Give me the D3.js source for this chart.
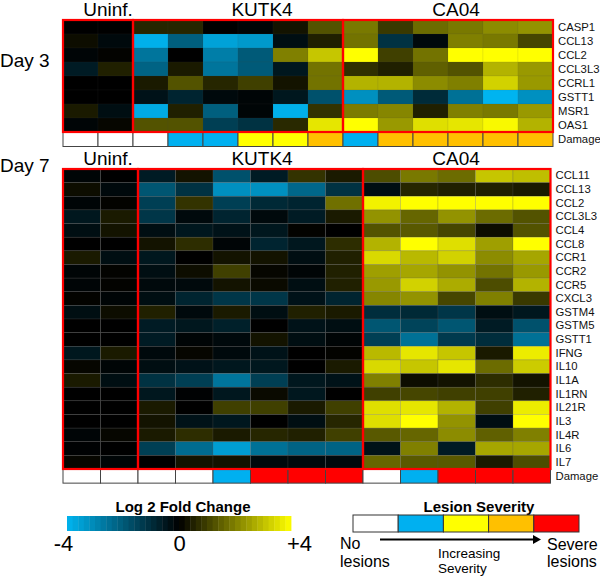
<!DOCTYPE html>
<html>
<head>
<meta charset="utf-8">
<script src="https://cdn.jsdelivr.net/npm/d3@7"></script>
<style>
  html, body { margin: 0; padding: 0; background: #fff; }
  svg { display: block; font-family: "Liberation Sans", Arial, Helvetica, sans-serif; }
</style>
</head>
<body>
<svg id="chart" width="600" height="576"></svg>
<script>
// ---------------- DATA ----------------
const groupNames = ["Uninf.", "KUTK4", "CA04"];
const day3GroupSizes = [2, 6, 6];
const day7GroupSizes = [2, 6, 5];

const day3Genes = ["CASP1", "CCL13", "CCL2", "CCL3L3", "CCRL1", "GSTT1", "MSR1", "OAS1"];
// columns: U1 U2 | K1..K6 | C1..C6  (log2 fold change)
const day3Values = [
  [ 0.0,  0.0,  0.6,  0.6,  0.0, -0.1,  0.3,  1.3,  1.9,  0.9,  1.7,  1.9,  2.2,  2.3],
  [ 0.2, -0.2, -3.9, -2.1, -3.6, -3.4, -0.3,  0.5,  1.8, -1.1, -0.2,  2.0,  1.9,  1.1],
  [-0.1,  0.05,-2.6,  0.0, -2.8, -2.0,  2.0,  3.1,  4.0,  1.0,  1.8,  4.0,  4.0,  4.0],
  [-0.6,  0.5, -2.2,  0.4, -2.6, -2.0, -0.5,  1.8,  0.75, 0.5,  1.5,  1.3,  2.8,  2.4],
  [ 0.0,  0.0,  0.4,  1.3,  0.6,  1.0,  0.3,  1.8,  2.8,  2.8,  2.2,  2.0,  3.3,  2.4],
  [ 0.0,  0.0, -0.4, -0.8, -0.2, -0.1, -0.5, -1.8, -3.2, -2.0, -0.95,-2.5, -4.0, -3.2],
  [ 0.4, -0.3, -3.8,  0.5, -2.1, -0.1, -3.9,  0.8,  1.95, 2.1,  0.5,  2.0,  1.9,  2.4],
  [-0.1,  0.1,  1.3,  1.3, -1.4, -1.1,  0.65, 3.6,  4.0,  2.4,  3.5,  3.6,  3.9,  2.8]
];
// lesion severity per column: 0 none .. 4 severe
const day3Damage = [0, 0, 0, 1, 1, 2, 2, 3, 1, 3, 3, 3, 3, 3];

const day7Genes = ["CCL11", "CCL13", "CCL2", "CCL3L3", "CCL4", "CCL8", "CCR1", "CCR2", "CCR5", "CXCL3",
  "GSTM4", "GSTM5", "GSTT1", "IFNG", "IL10", "IL1A", "IL1RN", "IL21R", "IL3", "IL4R", "IL6", "IL7"];
// columns: U1 U2 | K1..K6 | C1..C5
const day7Values = [
  [-0.1,  0.0, -0.6,  0.3, -1.8, -0.6,  0.8,  0.4,  1.2,  1.9,  1.7,  3.1,  3.0],
  [ 0.2, -0.2, -1.9, -1.1, -3.2, -3.2, -2.3, -1.1, -0.3,  0.6,  0.5,  0.5,  0.4],
  [-0.1,  0.05,-1.4,  0.8, -1.4, -0.9, -0.8,  1.75, 3.8,  4.0,  4.0,  4.0,  4.0],
  [-0.5,  0.4, -1.2, -0.2, -0.8, -0.2, -0.6,  0.4,  2.3,  1.6,  2.3,  1.7,  1.3],
  [-0.3,  0.3, -0.3, -0.5, -0.4, -0.5,  0.05, 0.0,  1.3,  1.4,  1.1,  0.2,  1.3],
  [ 0.0,  0.0,  0.3,  0.7, -0.1, -0.8, -0.5,  0.7,  2.8,  4.0,  3.5,  2.5,  4.0],
  [ 0.4, -0.3, -0.5,  0.0,  0.3,  0.3, -0.3,  0.5,  3.4,  2.9,  3.3,  2.2,  2.6],
  [-0.1,  0.05,-0.3,  0.2,  1.0,  0.1, -0.1,  0.5,  2.5,  2.6,  2.3,  1.8,  2.4],
  [-0.1,  0.05,-0.2, -0.2,  0.3,  0.15,-0.3,  0.5,  2.4,  3.3,  2.7,  1.2,  2.8],
  [ 0.05,-0.1, -0.3, -0.8, -1.2, -1.2, -0.4, -0.8,  2.1,  2.3,  1.1,  2.0,  0.9],
  [-0.3,  0.2,  0.5, -0.2,  0.4, -0.3,  0.5,  0.4, -1.0, -0.9, -1.2, -0.3, -0.5],
  [ 0.0,  0.0, -0.6, -0.5, -0.7,  0.0, -0.4, -0.3, -1.9, -1.5, -1.9, -0.6, -1.8],
  [ 0.0,  0.0, -0.6, -0.1, -0.2,  0.3, -0.3, -0.1, -1.4, -2.5, -1.3, -1.0, -2.5],
  [-0.5,  0.4, -0.2,  0.1, -0.2, -0.4,  0.0,  0.05, 2.9,  3.6,  3.1,  0.4,  3.7],
  [ 0.1, -0.1, -0.3, -0.4, -0.5, -0.5,  0.0,  0.4,  3.4,  3.1,  3.6,  1.7,  3.2],
  [ 0.4, -0.3, -1.1, -1.4, -2.6, -1.4, -0.5, -0.4,  2.0,  0.2,  0.3,  0.7,  0.3],
  [ 0.0,  0.0, -0.5, -0.05,-0.5,  0.15,-0.5,  0.0,  1.0,  1.1,  1.0,  1.0,  0.5],
  [ 0.0,  0.0,  0.4,  0.0,  1.0,  1.0,  0.4,  1.0,  3.5,  3.6,  2.8,  1.0,  3.7],
  [ 0.0,  0.0,  0.3, -0.4, -0.5,  0.0, -0.3,  0.6,  3.5,  4.0,  2.3, -0.3,  4.0],
  [-0.1,  0.1,  0.4,  0.7,  0.4,  0.6,  0.5,  1.0,  1.4,  1.6,  2.2,  1.5,  2.0],
  [-0.05, 0.0, -1.4, -2.4, -3.5, -2.5, -2.2, -2.2, -0.4,  2.0, -0.6,  2.6,  2.6],
  [ 0.1, -0.1,  0.0,  0.3,  0.3, -0.2, -0.2, -0.2,  1.6,  1.4,  1.4,  0.4,  1.2]
];
const day7Damage = [0, 0, 0, 0, 1, 4, 4, 4, 0, 1, 4, 4, 4];

const severityLevels = [0, 1, 2, 3, 4];
const severityColors = ["#ffffff", "#00b0f0", "#ffff00", "#ffc000", "#ff0000"];
const foldTicks = [-4, 0, 4];

// ---------------- DRAW ----------------
const svg = d3.select("#chart");
const FONT = '"Liberation Sans", Arial, Helvetica, sans-serif';

const color = d3.scaleLinear().domain([-4, 0, 4])
  .range(["#00b4f0", "#000000", "#ffff00"]).clamp(true);
const sevColor = d3.scaleOrdinal().domain(severityLevels).range(severityColors);

function colIds(sizes) {
  const ids = [];
  sizes.forEach((n, g) => { for (let i = 0; i < n; i++) ids.push(g + "_" + i); });
  return ids;
}

function heatmap(opt) {
  const cols = colIds(opt.sizes);
  const x = d3.scaleBand().domain(cols).range([opt.x0, opt.x1]);
  const y = d3.scaleBand().domain(opt.genes).range([opt.y0, opt.y1]);
  const g = svg.append("g");

  const cells = [];
  opt.values.forEach((row, r) => row.forEach((v, c) => cells.push({ gene: opt.genes[r], col: cols[c], v })));
  g.selectAll("rect.cell").data(cells).enter().append("rect")
    .attr("class", "cell")
    .attr("x", d => x(d.col)).attr("y", d => y(d.gene))
    .attr("width", x.bandwidth()).attr("height", y.bandwidth())
    .attr("fill", d => color(d.v))
    .attr("stroke", "#555").attr("stroke-opacity", opt.gridOpacity).attr("stroke-width", 0.6);

  // damage row
  const dy = opt.y1 + 0.5;
  const dh = y.bandwidth();
  g.selectAll("rect.dmg").data(opt.damage).enter().append("rect")
    .attr("class", "dmg")
    .attr("x", (d, i) => x(cols[i])).attr("y", dy)
    .attr("width", x.bandwidth()).attr("height", dh)
    .attr("fill", d => sevColor(d))
    .attr("stroke", "#444").attr("stroke-width", 1);

  // group borders
  let start = 0;
  opt.sizes.forEach((n, gi) => {
    const xa = x(cols[start]);
    const xb = x(cols[start + n - 1]) + x.bandwidth();
    g.append("rect").attr("x", xa).attr("y", opt.y0)
      .attr("width", xb - xa).attr("height", opt.y1 - opt.y0)
      .attr("fill", "none").attr("stroke", "#ff0000").attr("stroke-width", 2.2);
    g.append("text").attr("x", opt.labelX[gi]).attr("y", opt.y0 - 4)
      .attr("text-anchor", "middle").attr("font-size", 19).attr("font-family", FONT)
      .text(groupNames[gi]);
    start += n;
  });

  // gene labels
  const ax = g.append("g").attr("transform", `translate(${opt.x1},0)`)
    .call(d3.axisRight(y).tickSize(0).tickPadding(5));
  ax.select(".domain").remove();
  ax.selectAll("text").attr("font-size", 11.3).attr("font-family", FONT).attr("fill", "#111");
  g.append("text").attr("x", opt.x1 + 5).attr("y", dy + dh / 2).attr("dy", "0.32em")
    .attr("font-size", 11.3).attr("font-family", FONT).attr("fill", "#111").text("Damage");

  g.append("text").attr("x", 0).attr("y", opt.dayY)
    .attr("font-size", 19).attr("font-family", FONT).text(opt.day);
}

heatmap({ genes: day3Genes, values: day3Values, damage: day3Damage, sizes: day3GroupSizes,
  x0: 63, x1: 553, y0: 20, y1: 132, labelX: [108, 262, 456], day: "Day 3", dayY: 67, gridOpacity: 0.15 });
heatmap({ genes: day7Genes, values: day7Values, damage: day7Damage, sizes: day7GroupSizes,
  x0: 63, x1: 550.5, y0: 169, y1: 469, labelX: [108, 262, 456], day: "Day 7", dayY: 172, gridOpacity: 0.35 });

// ---------- Fold change legend ----------
const lx = d3.scaleLinear().domain([-4, 4]).range([67, 291]);
const steps = d3.range(-4, 4, 0.2);
const lg = svg.append("g");
lg.selectAll("rect").data(steps).enter().append("rect")
  .attr("x", d => lx(d)).attr("y", 516)
  .attr("width", lx(0.2) - lx(0) + 0.4).attr("height", 15)
  .attr("fill", d => color(d + 0.1));
lg.append("text").attr("x", 183).attr("y", 512).attr("text-anchor", "middle")
  .attr("font-size", 15).attr("font-weight", "bold").attr("font-family", FONT)
  .text("Log 2 Fold Change");
const la = lg.append("g").attr("transform", "translate(0,534)")
  .call(d3.axisBottom(lx).tickValues(foldTicks).tickSize(0).tickPadding(0)
    .tickFormat(d => d > 0 ? "+" + d : (d < 0 ? "-" + Math.abs(d) : "0")));
la.select(".domain").remove();
la.selectAll("text").attr("font-size", 22).attr("font-family", FONT).attr("fill", "#000")
  .attr("dy", "0.75em")
  .attr("dx", d => d < 0 ? -4 : (d > 0 ? 8 : 0));

// ---------- Lesion severity legend ----------
const sx = d3.scaleBand().domain(severityLevels).range([353, 579]);
const sg = svg.append("g");
sg.append("text").attr("x", 479).attr("y", 512).attr("text-anchor", "middle")
  .attr("font-size", 15).attr("font-weight", "bold").attr("font-family", FONT)
  .text("Lesion Severity");
sg.selectAll("rect").data(severityLevels).enter().append("rect")
  .attr("x", d => sx(d)).attr("y", 515)
  .attr("width", sx.bandwidth()).attr("height", 17)
  .attr("fill", d => sevColor(d)).attr("stroke", "#333").attr("stroke-width", 1);
sg.append("line").attr("x1", 380).attr("x2", 534).attr("y1", 539.5).attr("y2", 539.5)
  .attr("stroke", "#000").attr("stroke-width", 2);
sg.append("path").attr("d", "M533,535 L541,539.5 L533,544 Z").attr("fill", "#000");
const tx = (x, y, s, size, anchor) => sg.append("text").attr("x", x).attr("y", y)
  .attr("font-size", size).attr("font-family", FONT).attr("text-anchor", anchor || "start").text(s);
tx(340, 549, "No", 16);
tx(340, 567, "lesions", 16);
tx(438, 558, "Increasing", 13.5);
tx(438, 573, "Severity", 13.5);
tx(547, 550, "Severe", 16);
tx(547, 567, "lesions", 16);
</script>
</body>
</html>
